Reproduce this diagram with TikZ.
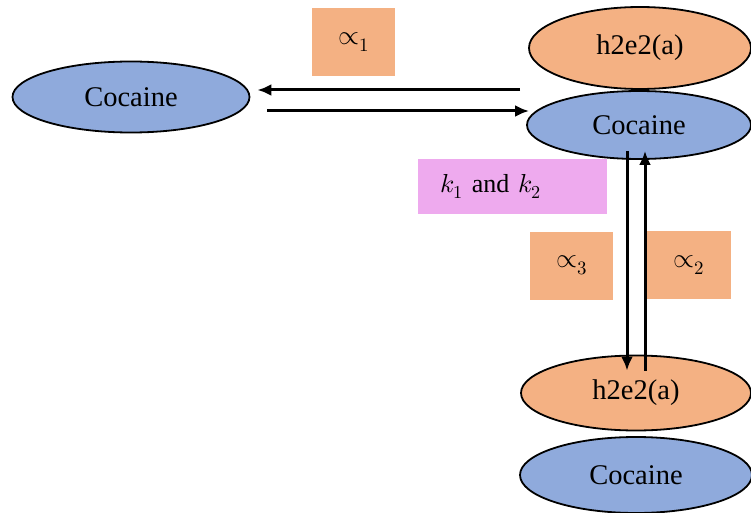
\documentclass[tikz,border=0pt]{standalone}
\usepackage{fontspec}
\usepackage{unicode-math}
\setmainfont{Liberation Serif}
\setmathfont{Latin Modern Math}
\usepackage{tikz}
\usetikzlibrary{shapes.geometric, arrows.meta, positioning}
\definecolor{cocblue}{HTML}{8FAADC}
\definecolor{enzorange}{HTML}{F4B183}
\definecolor{kpink}{HTML}{EEAAEE}
\tikzset{
    species/.style={draw=black, ellipse, line width=1.8pt, inner sep=0pt, font=\fontsize{28.5}{33}\selectfont},
    cocaine/.style={species, fill=cocblue},
    enzyme/.style={species, fill=enzorange},
    rate/.style={rectangle, fill=enzorange, inner sep=0pt, minimum width=83pt, minimum height=68pt, font=\fontsize{27}{31}\selectfont},
    flow/.style={line width=3pt, -{Latex[length=14pt,width=12pt]}},
}

\begin{document}
\begin{tikzpicture}[x=1pt,y=-1pt]
    \useasboundingbox (0,0) rectangle (751,513);
    \node[cocaine, minimum width=237pt, minimum height=71pt] (cocL) at (131,97) {Cocaine};
    \node[enzyme, minimum width=222pt, minimum height=82pt] (enzT) at (640,48) {h2e2(a)};
    \node[cocaine, minimum width=224pt, minimum height=68pt] (cocR) at (639,125) {Cocaine};
    \node[enzyme, minimum width=230pt, minimum height=75pt] (enzB) at (636,393) {h2e2(a)};
    \node[cocaine, minimum width=232pt, minimum height=76pt] (cocB) at (636,475) {Cocaine};

    \node[rate] (a1) at (353.5,42) {$\propto_1$};
    \node[rate] (a3) at (571.5,265.5) {$\propto_3$};
    \node[rate, minimum width=84pt] (a2) at (689,265) {$\propto_2$};
    \node[rectangle, fill=kpink, inner xsep=22pt, inner ysep=0pt, minimum height=55pt, text width=145pt, align=left, font=\fontsize{26}{30}\selectfont] (kk) at (512.5,186.5) {$k_1$ and $k_2$};

    \coordinate[xshift=-6pt, yshift=35pt] (A1) at (cocR.west);
    \coordinate[xshift=7pt, yshift=7pt] (A2) at (cocL.east);
    \coordinate[xshift=17pt, yshift=-14pt] (B1) at (cocL.east);
    \coordinate[xshift=3pt, yshift=14pt] (B2) at (cocR.west);
    \coordinate[xshift=-12pt, yshift=9pt] (C1) at (cocR.south);
    \coordinate[xshift=-9pt, yshift=-16pt] (D1) at (enzB.north);
    \coordinate[xshift=9pt, yshift=-16pt] (D2) at (enzB.north);
    \coordinate[xshift=6pt, yshift=9pt] (C2) at (cocR.south);

    \draw[flow] (A1) -- (A2);
    \draw[flow] (B1) -- (B2);
    \draw[flow] (C1) -- (D1);
    \draw[flow] (D2) -- (C2);
\end{tikzpicture}
\end{document}
